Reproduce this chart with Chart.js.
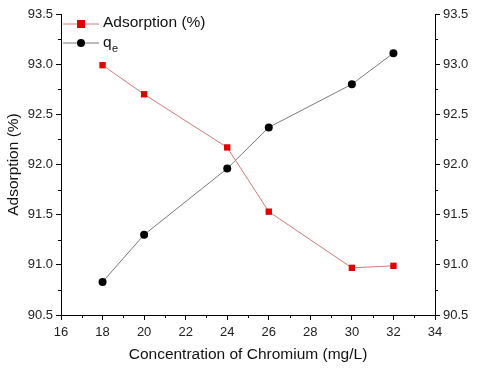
<!DOCTYPE html>
<html>
<head>
<meta charset="utf-8">
<script src="https://cdn.jsdelivr.net/npm/chart.js@4"></script>
<style>
  html, body { margin: 0; padding: 0; background: #fff; }
  #wrap { width: 480px; height: 368px; }
</style>
</head>
<body>
<div id="wrap"><canvas id="c" width="480" height="368"></canvas></div>
<script>
// values
const concentration = [18, 20, 24, 26, 30, 32];
const adsorption = [92.99, 92.70, 92.17, 91.53, 90.97, 90.99];
const qe = [90.83, 91.30, 91.96, 92.37, 92.80, 93.11];
const xTicks = [16, 18, 20, 22, 24, 26, 28, 30, 32, 34];
const yTicks = [90.5, 91.0, 91.5, 92.0, 92.5, 93.0, 93.5];

const FONT = 'Liberation Sans, Arial, sans-serif';

// short minor ticks between the labelled ones
const minorTicks = {
  id: 'minorTicks',
  afterDraw(chart) {
    const ctx = chart.ctx;
    const { x, y, y1 } = chart.scales;
    ctx.save();
    ctx.strokeStyle = '#000';
    ctx.lineWidth = 1;
    ctx.beginPath();
    for (let v = 17; v < 34; v += 2) {
      const px = Math.round(x.getPixelForValue(v)) + 0.5;
      ctx.moveTo(px, x.top);
      ctx.lineTo(px, x.top + 3);
    }
    for (let v = 90.75; v < 93.5; v += 0.5) {
      const py = Math.round(y.getPixelForValue(v)) + 0.5;
      ctx.moveTo(y.right, py);
      ctx.lineTo(y.right - 3, py);
      ctx.moveTo(y1.left, py);
      ctx.lineTo(y1.left + 3, py);
    }
    ctx.stroke();
    ctx.restore();
  }
};

// legend drawn by hand so q can carry its subscript e
const legendBox = {
  id: 'legendBox',
  afterDraw(chart) {
    const ctx = chart.ctx;
    const left = chart.chartArea.left + 2;
    const rows = [
      { y: 24, line: '#d07a7a', fill: '#e00000', shape: 'rect' },
      { y: 43, line: '#7a7a7a', fill: '#000', shape: 'circle' }
    ];
    ctx.save();
    rows.forEach(r => {
      ctx.strokeStyle = r.line;
      ctx.lineWidth = 1;
      ctx.beginPath();
      ctx.moveTo(left, r.y);
      ctx.lineTo(left + 36, r.y);
      ctx.stroke();
      ctx.fillStyle = r.fill;
      if (r.shape === 'rect') {
        ctx.fillRect(left + 14, r.y - 4, 8, 8);
      } else {
        ctx.beginPath();
        ctx.arc(left + 18, r.y, 4, 0, Math.PI * 2);
        ctx.fill();
      }
    });
    ctx.fillStyle = '#111';
    ctx.textBaseline = 'middle';
    ctx.font = '15.5px ' + FONT;
    ctx.fillText('Adsorption (%)', left + 40, 23);
    ctx.fillText('q', left + 40, 43);
    ctx.font = '11px ' + FONT;
    ctx.fillText('e', left + 49, 49);
    ctx.restore();
  }
};

new Chart(document.getElementById('c'), {
  type: 'line',
  data: {
    datasets: [
      {
        label: 'Adsorption (%)',
        data: concentration.map((c, i) => ({ x: c, y: adsorption[i] })),
        yAxisID: 'y',
        borderColor: '#d07a7a',
        borderWidth: 1,
        pointStyle: 'rect',
        pointRadius: 4.5,
        pointBackgroundColor: '#e00000',
        pointBorderColor: '#e00000',
        pointBorderWidth: 0
      },
      {
        label: 'qe',
        data: concentration.map((c, i) => ({ x: c, y: qe[i] })),
        yAxisID: 'y1',
        borderColor: '#7a7a7a',
        borderWidth: 1,
        pointStyle: 'circle',
        pointRadius: 4,
        pointBackgroundColor: '#000',
        pointBorderColor: '#000',
        pointBorderWidth: 0
      }
    ]
  },
  options: {
    responsive: false,
    animation: false,
    layout: { padding: { top: 14, right: 0, left: 0, bottom: 0 } },
    plugins: { legend: { display: false }, tooltip: { enabled: false } },
    scales: {
      x: {
        type: 'linear',
        min: 16,
        max: 34,
        afterBuildTicks: s => { s.ticks = xTicks.map(v => ({ value: v })); },
        afterFit: s => { s.height = 53; },
        border: { display: true, color: '#000', width: 1 },
        grid: { drawOnChartArea: false, drawTicks: true, tickLength: 5, tickColor: '#000' },
        ticks: { color: '#222', font: { family: FONT, size: 13 }, padding: 5, maxRotation: 0 },
        title: {
          display: true,
          text: 'Concentration of Chromium (mg/L)',
          color: '#111',
          font: { family: FONT, size: 15.5 },
          padding: { top: 6 }
        }
      },
      y: {
        position: 'left',
        min: 90.5,
        max: 93.5,
        afterBuildTicks: s => { s.ticks = yTicks.map(v => ({ value: v })); },
        afterFit: s => { s.width = 61; },
        border: { display: true, color: '#000', width: 1 },
        grid: { drawOnChartArea: false, drawTicks: true, tickLength: 5, tickColor: '#000' },
        ticks: {
          color: '#222',
          font: { family: FONT, size: 13 },
          padding: 3,
          callback: v => v.toFixed(1)
        },
        title: {
          display: true,
          text: 'Adsorption (%)',
          color: '#111',
          font: { family: FONT, size: 15.5 },
          padding: { bottom: 2 }
        }
      },
      y1: {
        position: 'right',
        min: 90.5,
        max: 93.5,
        afterBuildTicks: s => { s.ticks = yTicks.map(v => ({ value: v })); },
        afterFit: s => { s.width = 45; },
        border: { display: true, color: '#000', width: 1 },
        grid: { drawOnChartArea: false, drawTicks: true, tickLength: 5, tickColor: '#000' },
        ticks: {
          color: '#222',
          font: { family: FONT, size: 13 },
          padding: 3,
          callback: v => v.toFixed(1)
        }
      }
    }
  },
  plugins: [minorTicks, legendBox]
});
</script>
</body>
</html>
